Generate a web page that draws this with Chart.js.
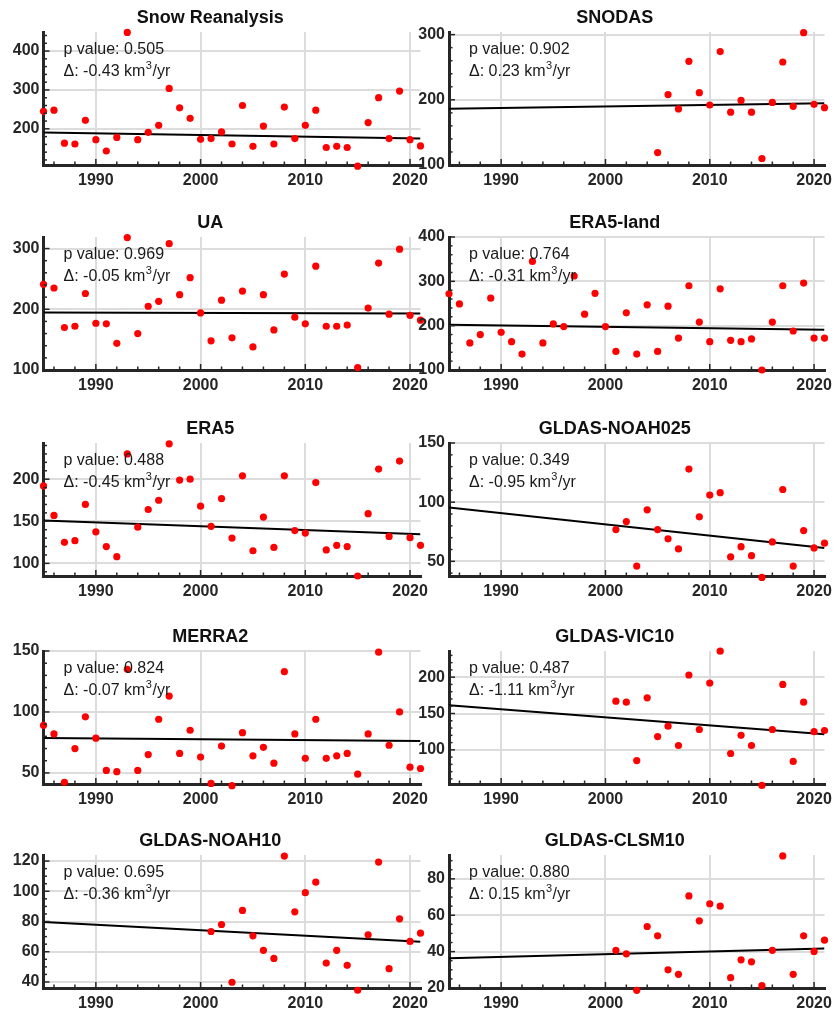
<!DOCTYPE html>
<html>
<head>
<meta charset="utf-8">
<title>Annual snow water volume by product</title>
<script src="https://cdn.jsdelivr.net/npm/chart.js@4.4.1/dist/chart.umd.min.js"></script>
<style>
  html, body { margin: 0; padding: 0; background: #ffffff; }
  body { position: relative; width: 836px; height: 1014px; overflow: hidden; }
  canvas.panel { position: absolute; }
</style>
</head>
<body>
<script>
// ---- years ----
const yearsFull = [1985, 1986, 1987, 1988, 1989, 1990, 1991, 1992, 1993, 1994, 1995, 1996, 1997,
  1998, 1999, 2000, 2001, 2002, 2003, 2004, 2005, 2006, 2007, 2008, 2009, 2010, 2011, 2012,
  2013, 2014, 2015, 2016, 2017, 2018, 2019, 2020, 2021];
const yearsSnodas = [2005, 2006, 2007, 2008, 2009, 2010, 2011, 2012, 2013, 2014, 2015, 2016,
  2017, 2018, 2019, 2020, 2021];
const yearsGldas = [2001, 2002, 2003, 2004, 2005, 2006, 2007, 2008, 2009, 2010, 2011, 2012,
  2013, 2014, 2015, 2016, 2017, 2018, 2019, 2020, 2021];

// ---- annual values (km^3) ----
const snowReanalysis = [245, 248, 163, 161, 222, 172, 143, 178, 448, 172, 191, 209, 304, 254, 227,
  173, 175, 192, 161, 260, 155, 207, 161, 256, 175, 209, 248, 152, 155, 152, 104, 216, 280, 175,
  297, 172, 156];
const snodas = [119, 208, 186, 259, 211, 192, 274, 181, 199, 181, 110, 196, 258, 190, 303, 193, 188];
const ua = [241, 235, 170, 172, 226, 177, 176, 144, 318, 160, 205, 213, 308, 224, 252, 194, 148,
  215, 153, 230, 138, 224, 166, 258, 187, 176, 271, 172, 172, 174, 104, 202, 276, 192, 299, 190, 182];
const era5Land = [272, 249, 161, 180, 262, 185, 164, 136, 345, 161, 204, 198, 312, 226, 273, 198,
  142, 229, 136, 247, 142, 244, 172, 290, 208, 164, 283, 167, 164, 170, 100, 208, 290, 188, 296,
  172, 172];
const era5 = [192, 157, 125, 127, 170, 137.5, 120, 108, 230, 143, 164, 175, 242, 199, 200, 168, 144,
  177, 130, 204, 115, 155, 119, 204, 139, 136, 196, 116, 121.5, 120, 85, 159, 212, 132, 221.5,
  130.5, 121.5];
const gldasNoah025 = [76.8, 83.6, 46, 93.5, 76.8, 69, 60.5, 128, 87.6, 106, 108, 53.7, 62.4, 54.8,
  36.4, 66.4, 110.7, 46, 76, 61.3, 65.3];
const merra2 = [89, 82, 42.3, 70, 96, 78.5, 52, 51, 135, 52, 65, 94, 113, 66, 85, 63, 41.4, 72,
  39.5, 83, 64, 71, 58, 133, 82, 62, 94, 62, 64, 66, 49, 82, 149, 72.7, 100, 54.7, 53.6];
const gldasVic10 = [167, 165.6, 85.3, 171.6, 118.3, 132.6, 106, 203, 128, 192, 235.8, 95, 120, 106,
  51, 128, 190, 84, 165.6, 125, 126.6];
const gldasNoah10 = [73.4, 78, 39.8, 87.3, 70.5, 60.9, 55.6, 123.3, 86.4, 99.1, 106, 52.5, 60.9, 51,
  34.5, 71.2, 119.3, 48.8, 81.8, 66.8, 72.3];
const gldasClsm10 = [40.7, 38.8, 18.7, 53.8, 48.7, 30, 27.5, 70.6, 56.9, 66.3, 65, 25.7, 35.5, 34.4,
  21.3, 40.7, 92.6, 27.5, 48.7, 40.1, 46.3];

// ---- panel descriptions, in reading order ----
const titles = ['Snow Reanalysis', 'SNODAS', 'UA', 'ERA5-land', 'ERA5', 'GLDAS-NOAH025',
  'MERRA2', 'GLDAS-VIC10', 'GLDAS-NOAH10', 'GLDAS-CLSM10'];
const seriesYears = [yearsFull, yearsSnodas, yearsFull, yearsFull, yearsFull, yearsGldas,
  yearsFull, yearsGldas, yearsGldas, yearsGldas];
const seriesValues = [snowReanalysis, snodas, ua, era5Land, era5, gldasNoah025,
  merra2, gldasVic10, gldasNoah10, gldasClsm10];

// trend statistics: p value, slope (km^3/yr) and fitted value in the first year
const pValues = [0.505, 0.902, 0.969, 0.764, 0.488, 0.349, 0.824, 0.487, 0.695, 0.880];
const slopes = [-0.43, 0.23, -0.05, -0.31, -0.45, -0.95, -0.07, -1.11, -0.36, 0.15];
const trendAtStart = [190.6, 186.3, 194.8, 202, 150.8, 95.5, 78.7, 161.5, 79.6, 36.3];

// axis limits and ticks
const xRange = [1985, 2021];
const xTicks = [1990, 2000, 2010, 2020];
const xMinorStep = 2;
const yMin = [107, 100, 100, 100, 85, 37.6, 40.9, 53, 36, 20];
const yMax = [449, 304, 319, 400, 243, 150, 150, 236, 124, 93.1];
const yTicks = [
  [200, 300, 400], [100, 200, 300], [100, 200, 300], [100, 200, 300, 400],
  [100, 150, 200], [50, 100, 150], [50, 100, 150], [100, 150, 200],
  [40, 60, 80, 100, 120], [20, 40, 60, 80]
];
const yMinorStep = [20, 20, 20, 20, 10, 10, 10, 10, 5, 5];

// ---- page grid ----
const plotTops = [32, 237, 443, 651, 855];
const plotHeight = 133;
const titleBand = 32;
const xAxisBand = 30;
const columns = [
  { canvasLeft: 0, canvasWidth: 430, axisWidth: 43.5, padRight: 9.5 },
  { canvasLeft: 405, canvasWidth: 431, axisWidth: 44, padRight: 11.5 }
];

const FONT = "'Liberation Sans', Arial, Helvetica, sans-serif";
const AXIS_COLOR = '#262626';

// inward tick marks plus the p value / trend text in the upper left corner
const panelDecor = {
  id: 'panelDecor',
  afterDraw(chart, args, o) {
    const { ctx, chartArea: a } = chart;
    const xs = chart.scales.x, ys = chart.scales.y;
    ctx.save();
    ctx.strokeStyle = AXIS_COLOR;
    ctx.lineWidth = 1.5;
    // y axis ticks
    for (let k = Math.ceil(ys.min / o.minorY); k * o.minorY <= ys.max + 1e-9; k++) {
      const v = k * o.minorY;
      const py = ys.getPixelForValue(v);
      const len = o.majorY.includes(v) ? 6 : 3.5;
      ctx.beginPath();
      ctx.moveTo(a.left, py);
      ctx.lineTo(a.left + len, py);
      ctx.stroke();
    }
    // x axis ticks
    for (let k = Math.ceil(xs.min / o.minorX); k * o.minorX <= xs.max; k++) {
      const v = k * o.minorX;
      const px = xs.getPixelForValue(v);
      const len = o.majorX.includes(v) ? 6 : 3.5;
      ctx.beginPath();
      ctx.moveTo(px, a.bottom);
      ctx.lineTo(px, a.bottom - len);
      ctx.stroke();
    }
    // statistics text
    ctx.fillStyle = '#1a1a1a';
    ctx.textBaseline = 'alphabetic';
    ctx.textAlign = 'left';
    ctx.font = '16px ' + FONT;
    const tx = a.left + 20;
    ctx.fillText('p value: ' + o.p.toFixed(3), tx, a.top + 22);
    const base2 = a.top + 44;
    const head = '\u0394: ' + o.slope.toFixed(2) + ' km';
    ctx.fillText(head, tx, base2);
    let cx = tx + ctx.measureText(head).width;
    ctx.font = '11px ' + FONT;
    ctx.fillText('3', cx + 0.5, base2 - 7);
    cx += ctx.measureText('3').width + 1;
    ctx.font = '16px ' + FONT;
    ctx.fillText('/yr', cx, base2);
    ctx.restore();
  }
};

titles.forEach((title, i) => {
  const row = Math.floor(i / 2);
  const col = columns[i % 2];
  const canvas = document.createElement('canvas');
  canvas.className = 'panel';
  const h = titleBand + plotHeight + xAxisBand;
  canvas.width = col.canvasWidth;
  canvas.height = h;
  canvas.style.left = col.canvasLeft + 'px';
  canvas.style.top = (plotTops[row] - titleBand) + 'px';
  canvas.style.width = col.canvasWidth + 'px';
  canvas.style.height = h + 'px';
  document.body.appendChild(canvas);

  const pts = seriesYears[i].map((yr, k) => ({ x: yr, y: seriesValues[i][k] }));
  const span = xRange[1] - xRange[0];
  const trend = [
    { x: xRange[0], y: trendAtStart[i] },
    { x: xRange[1], y: trendAtStart[i] + slopes[i] * span }
  ];

  new Chart(canvas, {
    type: 'scatter',
    data: {
      datasets: [
        {
          type: 'scatter',
          data: pts,
          pointRadius: 3.6,
          pointHoverRadius: 3.6,
          pointBackgroundColor: '#ff0000',
          pointBorderWidth: 0,
          clip: false,
          order: 0
        },
        {
          type: 'line',
          data: trend,
          borderColor: '#000000',
          borderWidth: 2,
          pointRadius: 0,
          fill: false,
          order: 1
        }
      ]
    },
    options: {
      responsive: false,
      animation: false,
      devicePixelRatio: 1,
      layout: { padding: { left: 0, right: col.padRight, top: 0, bottom: 0 } },
      scales: {
        x: {
          type: 'linear',
          min: xRange[0],
          max: xRange[1],
          afterBuildTicks: s => { s.ticks = xTicks.map(v => ({ value: v })); },
          afterFit: s => { s.height = xAxisBand; s.paddingLeft = 0; s.paddingRight = 0; },
          ticks: {
            padding: 6,
            maxRotation: 0,
            autoSkip: false,
            color: AXIS_COLOR,
            font: { family: FONT, size: 16, weight: 'bold' },
            callback: v => String(v)
          },
          grid: { color: '#dcdcdc', lineWidth: 2, drawTicks: false },
          border: { display: true, color: AXIS_COLOR, width: 3 }
        },
        y: {
          type: 'linear',
          min: yMin[i],
          max: yMax[i],
          afterBuildTicks: s => { s.ticks = yTicks[i].map(v => ({ value: v })); },
          afterFit: s => { s.width = col.axisWidth; s.paddingTop = 0; s.paddingBottom = 0; },
          ticks: {
            padding: 4,
            autoSkip: false,
            color: AXIS_COLOR,
            font: { family: FONT, size: 16, weight: 'bold' },
            callback: v => String(v)
          },
          grid: { color: '#dcdcdc', lineWidth: 2, drawTicks: false },
          border: { display: true, color: AXIS_COLOR, width: 3 }
        }
      },
      plugins: {
        legend: { display: false },
        tooltip: { enabled: false },
        title: {
          display: true,
          text: title,
          color: '#111111',
          font: { family: FONT, size: 18, weight: 'bold' },
          padding: { top: 7, bottom: 3.4 }
        },
        panelDecor: {
          p: pValues[i],
          slope: slopes[i],
          minorY: yMinorStep[i],
          majorY: yTicks[i],
          minorX: xMinorStep,
          majorX: xTicks
        }
      }
    },
    plugins: [panelDecor]
  });
});
</script>
</body>
</html>
